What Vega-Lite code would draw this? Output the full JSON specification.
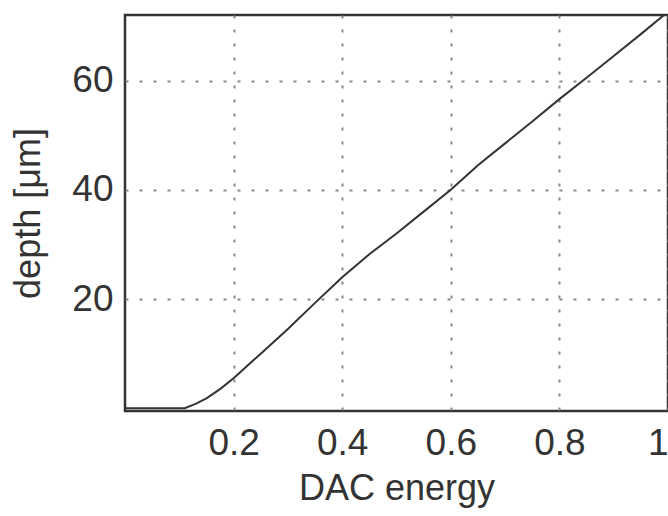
{
  "$schema": "https://vega.github.io/schema/vega-lite/v6.json",
  "autosize": "none",
  "width": 543,
  "height": 396,
  "padding": {"left": 125, "top": 15, "right": 0, "bottom": 105},
  "background": "white",
  "data": {
    "values": [
      {"e": 0.0, "d": 0},
      {"e": 0.05, "d": 0},
      {"e": 0.11, "d": 0},
      {"e": 0.13, "d": 0.8},
      {"e": 0.15, "d": 1.8},
      {"e": 0.175, "d": 3.5},
      {"e": 0.2, "d": 5.5},
      {"e": 0.25, "d": 10},
      {"e": 0.3, "d": 14.5},
      {"e": 0.35, "d": 19.3},
      {"e": 0.4, "d": 24},
      {"e": 0.45, "d": 28.2},
      {"e": 0.5, "d": 32},
      {"e": 0.55, "d": 36},
      {"e": 0.6, "d": 40},
      {"e": 0.65, "d": 44.5},
      {"e": 0.7, "d": 48.5},
      {"e": 0.75, "d": 52.5},
      {"e": 0.8, "d": 56.6},
      {"e": 0.85, "d": 60.5},
      {"e": 0.9, "d": 64.5},
      {"e": 0.95, "d": 68.5},
      {"e": 1.0, "d": 72.6}
    ]
  },
  "mark": {"type": "line", "color": "#333333", "strokeWidth": 2, "clip": true, "interpolate": "linear"},
  "encoding": {
    "x": {
      "field": "e",
      "type": "quantitative",
      "scale": {"domain": [0, 1], "nice": false, "zero": false},
      "axis": {
        "title": "DAC energy",
        "values": [0.2, 0.4, 0.6, 0.8, 1],
        "format": "~g",
        "labelPadding": 14,
        "titlePadding": 10
      }
    },
    "y": {
      "field": "d",
      "type": "quantitative",
      "scale": {"domain": [-0.5, 72], "nice": false, "zero": false},
      "axis": {
        "title": "depth [μm]",
        "values": [20, 40, 60],
        "labelPadding": 12,
        "titlePadding": 24
      }
    }
  },
  "config": {
    "font": "Liberation Sans",
    "view": {"stroke": "#333333", "strokeWidth": 2.5},
    "axis": {
      "labelFont": "Liberation Sans",
      "titleFont": "Liberation Sans",
      "labelFontSize": 37,
      "titleFontSize": 36,
      "titleFontWeight": "normal",
      "labelColor": "#333333",
      "titleColor": "#333333",
      "domain": false,
      "ticks": false,
      "grid": true,
      "gridColor": "#888888",
      "gridWidth": 2,
      "gridDash": [3, 11],
      "gridOpacity": 1
    }
  }
}
